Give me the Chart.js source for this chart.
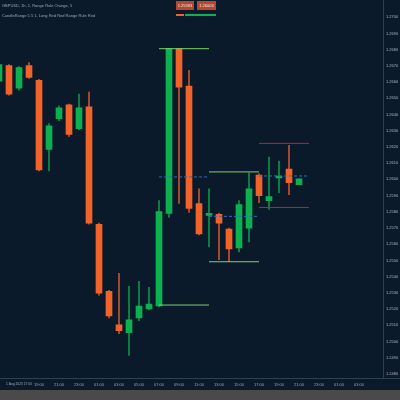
<!DOCTYPE html>
<html>
<head>
<meta charset="utf-8">
<script src="https://cdn.jsdelivr.net/npm/chart.js@4.4.0/dist/chart.umd.min.js"></script>
<style>
    html, body { margin: 0; padding: 0; background: #0c1b2b; }
    #wrap { width: 400px; height: 400px; }
</style>
</head>
<body>
<div id="wrap"><canvas id="candleChart" width="400" height="400"></canvas></div>
<script>
// Dữ liệu nến (giờ)
const candleIdx = [-1, 0, 1, 2, 3, 4, 5, 6, 7, 8, 9, 10, 11, 12, 13, 14, 15, 16, 17, 18, 19, 20, 21, 22, 23, 24, 25, 26, 27, 28, 29];
const opens  = [1.26605, 1.26702, 1.26562, 1.26702, 1.26611, 1.26185, 1.26374, 1.26459, 1.26313, 1.26447, 1.25723, 1.25310, 1.25103, 1.25055, 1.25146, 1.25201, 1.25219, 1.25790, 1.26806, 1.26575, 1.25851, 1.25778, 1.25784, 1.25693, 1.25578, 1.25699, 1.26027, 1.25869, 1.26009, 1.26064, 1.25967];
const highs  = [1.26739, 1.26708, 1.26696, 1.26720, 1.26617, 1.26344, 1.26453, 1.26465, 1.26526, 1.26538, 1.25730, 1.25316, 1.25420, 1.25341, 1.25371, 1.25334, 1.25869, 1.26806, 1.26806, 1.26672, 1.25942, 1.25942, 1.25790, 1.25699, 1.25869, 1.26040, 1.26034, 1.26137, 1.26113, 1.26210, 1.26003];
const lows   = [1.26587, 1.26520, 1.26550, 1.26623, 1.26052, 1.26052, 1.26362, 1.26265, 1.26307, 1.25723, 1.25286, 1.25146, 1.25049, 1.24915, 1.25128, 1.25195, 1.25213, 1.25766, 1.25851, 1.25796, 1.25657, 1.25584, 1.25505, 1.25492, 1.25553, 1.25614, 1.25857, 1.25815, 1.25918, 1.25906, 1.25967];
const closes = [1.26708, 1.26526, 1.26690, 1.26629, 1.26058, 1.26331, 1.26441, 1.26277, 1.26441, 1.25730, 1.25298, 1.25158, 1.25067, 1.25134, 1.25219, 1.25231, 1.25802, 1.26806, 1.26568, 1.25821, 1.25663, 1.25790, 1.25730, 1.25571, 1.25845, 1.25942, 1.25900, 1.25894, 1.26021, 1.25979, 1.26003];

// Các mức ngang (range)
const levelFrom   = [15, 20, 15, 20, 25, 25, 15, 20, 25];
const levelTo     = [20, 25, 20, 25, 30, 30, 20, 25, 30];
const levelValues = [1.26806, 1.26046, 1.25225, 1.25492, 1.26222, 1.25827, 1.26015, 1.25772, 1.26021];
const levelKind   = ['range', 'range', 'range', 'range', 'red', 'red', 'mid', 'mid', 'mid'];

// Nhãn trục
const yTicks = [1.270, 1.269, 1.268, 1.267, 1.266, 1.265, 1.264, 1.263, 1.262, 1.261, 1.260, 1.259,
                1.258, 1.257, 1.256, 1.255, 1.254, 1.253, 1.252, 1.251, 1.250, 1.249, 1.248];
const xTickVals = [1, 3, 5, 7, 9, 11, 13, 15, 17, 19, 21, 23, 25, 27, 29, 31, 33, 35];
const xTickLabels = ['1 Aug 2023 17:00', '19:00', '21:00', '23:00', '01:00', '03:00', '05:00', '07:00', '09:00',
                     '11:00', '13:00', '15:00', '17:00', '19:00', '21:00', '23:00', '01:00', '03:00'];
const legendLines = ['GBPUSD, 1h, 1, Range Rule Orange, 5', 'CandleRange 5 5 1, Long Red Red Range Rule Red'];
const badgeTexts = ['1.25983', '1.26003'];

// Màu sắc
const BG = '#0b1a2b';
const UP = '#0cb04f';
const DOWN = '#f2632a';
const kindColor = { range: '#7ad36b', red: '#c0242b', mid: '#2d6cc0' };
const FONT = '"Liberation Sans", sans-serif';

const isUp = candleIdx.map((x, i) => closes[i] >= opens[i]);

const datasets = [];

// Thân nến
datasets.push({
    type: 'bar',
    data: candleIdx.map((x, i) => ({ x: x, y: [opens[i], closes[i]] })),
    backgroundColor: isUp.map(u => u ? UP : DOWN),
    barThickness: 6,
    grouped: false,
    borderWidth: 0,
    order: 1
});

// Râu nến
datasets.push({
    type: 'bar',
    data: candleIdx.map((x, i) => ({ x: x, y: [lows[i], highs[i]] })),
    backgroundColor: isUp.map(u => u ? 'rgba(12,176,79,0.8)' : 'rgba(242,99,42,0.8)'),
    barThickness: 1,
    grouped: false,
    borderWidth: 0,
    order: 2
});

// Đường mức
levelValues.forEach((v, i) => {
    datasets.push({
        type: 'line',
        data: [{ x: levelFrom[i], y: v }, { x: levelTo[i], y: v }],
        borderColor: kindColor[levelKind[i]],
        borderWidth: 1,
        borderDash: levelKind[i] === 'mid' ? [3, 2] : [],
        pointRadius: 0,
        order: 0
    });
});

// Nền, viền trục, chú thích
const decor = {
    id: 'decor',
    beforeDraw(chart) {
        const c = chart.ctx;
        c.save();
        c.fillStyle = BG;
        c.fillRect(0, 0, 400, 400);
        c.fillStyle = '#4a4a4a';
        c.fillRect(0, 390, 400, 10);
        c.restore();
    },
    afterDraw(chart) {
        const c = chart.ctx;
        const a = chart.chartArea;
        c.save();
        c.strokeStyle = '#2a4254';
        c.lineWidth = 1;
        c.beginPath();
        c.moveTo(Math.round(a.right) + 0.5, 0);
        c.lineTo(Math.round(a.right) + 0.5, a.bottom);
        c.moveTo(0, Math.round(a.bottom) + 0.5);
        c.lineTo(400, Math.round(a.bottom) + 0.5);
        c.stroke();

        c.font = '4px ' + FONT;
        c.fillStyle = '#9aa6b3';
        c.textBaseline = 'middle';
        c.fillText(legendLines[0], 2, 6);
        c.fillText(legendLines[1], 2, 16);

        // Nút giá
        c.fillStyle = '#b4472f';
        c.fillRect(176, 1, 18, 9);
        c.fillRect(197, 1, 19, 9);
        c.fillStyle = '#f0e6e0';
        c.textAlign = 'center';
        c.fillText(badgeTexts[0], 185, 5.5);
        c.fillText(badgeTexts[1], 206.5, 5.5);
        c.fillStyle = DOWN;
        c.fillRect(176, 14, 8, 2);
        c.fillStyle = UP;
        c.fillRect(185, 14, 31, 2);
        c.restore();
    }
};

const ctx = document.getElementById('candleChart').getContext('2d');
let chart = new Chart(ctx, {
    data: { datasets: datasets },
    options: {
        responsive: false,
        animation: false,
        layout: { padding: { top: 0, left: 0, right: 0, bottom: 10 } },
        plugins: {
            legend: { display: false },
            tooltip: { enabled: false }
        },
        scales: {
            x: {
                type: 'linear',
                offset: false,
                min: -0.9,
                max: 37.4,
                grid: { display: false, drawTicks: false },
                border: { display: false },
                afterBuildTicks: scale => { scale.ticks = xTickVals.map(v => ({ value: v })); },
                afterFit: scale => { scale.height = 12; },
                ticks: {
                    autoSkip: false,
                    maxRotation: 0,
                    padding: 4,
                    color: '#9aa6b3',
                    font: c => ({ size: c.index === 0 ? 3.3 : 4, family: FONT }),
                    callback: (v) => xTickLabels[xTickVals.indexOf(v)]
                }
            },
            y: {
                type: 'linear',
                position: 'right',
                min: 1.24775,
                max: 1.27073,
                grid: { display: false, drawTicks: false },
                border: { display: false },
                afterBuildTicks: scale => { scale.ticks = yTicks.map(v => ({ value: v })); },
                afterFit: scale => { scale.width = 17; },
                ticks: {
                    padding: 3,
                    color: '#a8b3bd',
                    font: { size: 4, family: FONT },
                    callback: v => v.toFixed(4)
                }
            }
        }
    },
    plugins: [decor]
});
</script>
</body>
</html>
